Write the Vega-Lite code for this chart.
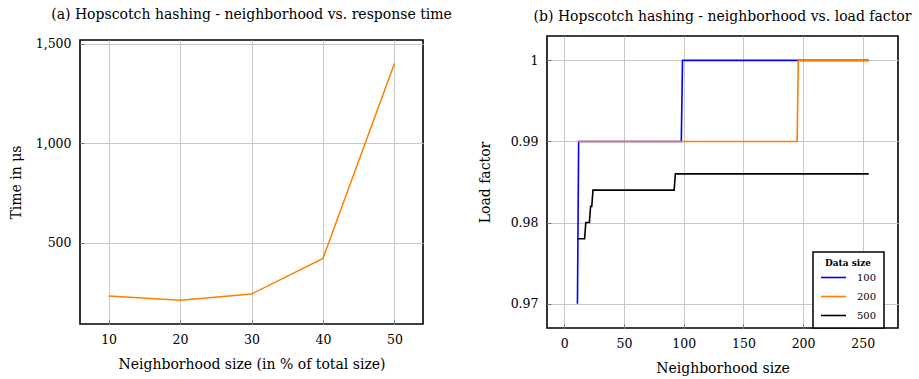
{
  "$schema": "https://vega.github.io/schema/vega-lite/v6.json",
  "background": "white",
  "padding": {"left": 8, "top": 6, "right": 0, "bottom": 0},
  "spacing": 124,
  "bounds": "flush",
  "center": true,
  "config": {
    "font": "DejaVu Serif",
    "view": {"stroke": "black", "strokeWidth": 1.6},
    "axis": {
      "grid": true, "gridColor": "#c8c8c8", "gridWidth": 1, "domain": false,
      "tickColor": "#777", "tickSize": -4, "labelPadding": 13,
      "labelFont": "DejaVu Serif", "labelFontSize": 12.5, "labelColor": "black",
      "titleFont": "DejaVu Serif", "titleFontSize": 14, "titleFontWeight": "normal", "titleColor": "black"
    },
    "title": {"font": "DejaVu Serif", "fontSize": 14, "fontWeight": "normal", "color": "black", "frame": "group", "anchor": "middle"},
    "legend": {
      "orient": "none", "legendX": 733, "legendY": 216, "strokeColor": "black", "strokeWidth": 1.5, "fillColor": "white",
      "padding": 7, "titleFontWeight": "bold", "titleFontSize": 9, "titleAnchor": "middle", "titleColor": "black", "titlePadding": -4,
      "labelFontSize": 10, "labelColor": "black", "symbolType": "stroke", "symbolSize": 625, "symbolStrokeWidth": 1.6,
      "rowPadding": -11.5, "labelOffset": 10
    }
  },
  "hconcat": [
    {
      "title": {"text": "(a) Hopscotch hashing - neighborhood vs. response time", "offset": 16},
      "width": 343, "height": 284,
      "data": {"values": [
        {"n": 10, "t": 232}, {"n": 20, "t": 211}, {"n": 30, "t": 242}, {"n": 40, "t": 421}, {"n": 50, "t": 1401}
      ]},
      "mark": {"type": "line", "color": "#ff7f00", "strokeWidth": 1.5},
      "encoding": {
        "x": {"field": "n", "type": "quantitative", "scale": {"domain": [6, 54], "nice": false, "zero": false},
              "axis": {"values": [10, 20, 30, 40, 50], "title": "Neighborhood size (in % of total size)", "titlePadding": 12}},
        "y": {"field": "t", "type": "quantitative", "scale": {"domain": [91, 1519], "nice": false, "zero": false},
              "axis": {"values": [500, 1000, 1500], "format": ",d", "title": "Time in μs", "titlePadding": 12}}
      }
    },
    {
      "title": {"text": "(b) Hopscotch hashing - neighborhood vs. load factor", "offset": 12},
      "width": 351, "height": 292,
      "data": {"values": [
        {"x": 11, "lf": 0.97, "size": "100"}, {"x": 12, "lf": 0.99, "size": "100"}, {"x": 98, "lf": 0.99, "size": "100"}, {"x": 99, "lf": 1.0, "size": "100"}, {"x": 255, "lf": 1.0, "size": "100"},
        {"x": 11, "lf": 0.99, "size": "200"}, {"x": 195, "lf": 0.99, "size": "200"}, {"x": 196, "lf": 1.0, "size": "200"}, {"x": 255, "lf": 1.0, "size": "200"},
        {"x": 11, "lf": 0.978, "size": "500"}, {"x": 17, "lf": 0.978, "size": "500"}, {"x": 18, "lf": 0.98, "size": "500"}, {"x": 21, "lf": 0.98, "size": "500"},
        {"x": 22, "lf": 0.982, "size": "500"}, {"x": 23, "lf": 0.982, "size": "500"}, {"x": 24, "lf": 0.984, "size": "500"}, {"x": 92, "lf": 0.984, "size": "500"},
        {"x": 93, "lf": 0.986, "size": "500"}, {"x": 255, "lf": 0.986, "size": "500"}
      ]},
      "mark": {"type": "line", "strokeWidth": 1.6},
      "encoding": {
        "x": {"field": "x", "type": "quantitative", "scale": {"domain": [-14.5, 279.5], "nice": false, "zero": false},
              "axis": {"values": [0, 50, 100, 150, 200, 250], "title": "Neighborhood size", "titlePadding": 12}},
        "y": {"field": "lf", "type": "quantitative", "scale": {"domain": [0.967, 1.003], "nice": false, "zero": false},
              "axis": {"values": [0.97, 0.98, 0.99, 1.0], "format": ".2~f", "title": "Load factor", "titlePadding": 18}},
        "color": {"field": "size", "type": "nominal", "title": "Data size",
                  "scale": {"domain": ["100", "200", "500"], "range": ["#0000ff", "#ff7f00", "#000000"]}}
      }
    }
  ]
}
